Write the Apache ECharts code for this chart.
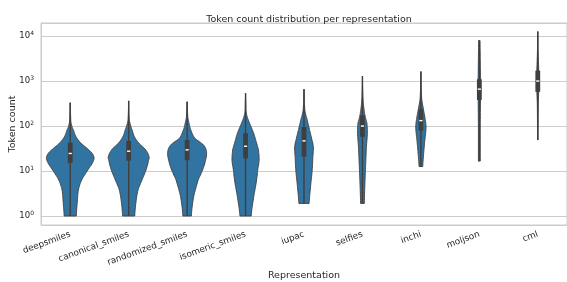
<!DOCTYPE html>
<html>
<head>
<meta charset="utf-8">
<script src="https://cdn.jsdelivr.net/npm/echarts@6/dist/echarts.min.js"></script>
<style>
  html, body { margin: 0; padding: 0; background: #fff; }
  #main { width: 567px; height: 282px; }
</style>
</head>
<body>
<div id="main"></div>
<script>
// categorias (eje x)
var categories = ['deepsmiles', 'canonical_smiles', 'randomized_smiles', 'isomeric_smiles',
  'iupac', 'selfies', 'inchi', 'moljson', 'cml'];

// perfiles de densidad: [log10(token count), densidad relativa]
var densities = [
  [[0, .26], [0.3, .30], [0.58, .35], [0.8, .49], [1.02, .75], [1.24, 1.0], [1.36, .98], [1.47, .79], [1.62, .46], [1.76, .25], [1.91, .14], [1.98, .08], [2.09, .03], [2.3, .012], [2.52, 0]],
  [[0, .26], [0.3, .31], [0.58, .40], [0.8, .57], [1.02, .74], [1.24, .85], [1.32, .87], [1.47, .73], [1.62, .44], [1.76, .25], [1.91, .15], [2.02, .08], [2.13, .03], [2.3, .012], [2.56, 0]],
  [[0, .18], [0.43, .28], [0.8, .47], [1.02, .66], [1.24, .79], [1.43, .83], [1.58, .70], [1.73, .33], [1.91, .16], [2.07, .08], [2.2, .03], [2.54, 0]],
  [[0, .24], [0.43, .35], [0.8, .47], [1.02, .52], [1.24, .58], [1.47, .55], [1.62, .47], [1.84, .35], [1.98, .24], [2.13, .12], [2.29, .03], [2.5, .012], [2.73, 0]],
  [[0.28, .22], [0.65, .28], [1.02, .35], [1.32, .38], [1.54, .40], [1.76, .31], [1.98, .21], [2.13, .14], [2.29, .06], [2.4, .03], [2.6, .01], [2.82, 0]],
  [[0.28, .08], [0.8, .11], [1.17, .14], [1.54, .17], [1.84, .21], [2.07, .19], [2.2, .12], [2.4, .06], [2.6, .025], [2.85, .008], [3.11, 0]],
  [[1.1, .08], [1.4, .12], [1.69, .17], [1.98, .22], [2.2, .17], [2.4, .10], [2.58, .04], [2.85, .012], [3.21, 0]],
  [[1.22, .04], [2.0, .04], [2.6, .05], [2.85, .06], [3.1, .05], [3.5, .04], [3.9, .03]],
  [[1.69, .01], [2.5, .02], [2.9, .05], [3.1, .05], [3.4, .03], [3.7, .012], [4.1, 0]]
];

// caja: [min, q1, mediana, q3, max] en log10(token count)
var boxStats = [
  [0, 1.18, 1.39, 1.63, 2.52],
  [0, 1.23, 1.44, 1.67, 2.56],
  [0, 1.24, 1.47, 1.69, 2.54],
  [0, 1.28, 1.55, 1.84, 2.73],
  [0.28, 1.32, 1.67, 1.98, 2.82],
  [0.28, 1.76, 2.0, 2.24, 3.11],
  [1.1, 1.9, 2.12, 2.37, 3.21],
  [1.22, 2.58, 2.82, 3.04, 3.9],
  [1.69, 2.76, 3.0, 3.23, 4.1]
];

// eje y en log10
var yMinLog = -0.2, yMaxLog = 4.29;

var myChart = echarts.init(document.getElementById('main'));

var seriesData = categories.map(function (c, i) { return [i, boxStats[i][2]]; });

// curva suave (catmull-rom) entre puntos del perfil, solo para dibujar
function smoothProfile(prof, steps) {
  var out = [];
  for (var k = 0; k < prof.length - 1; k++) {
    var p0 = prof[Math.max(k - 1, 0)], p1 = prof[k], p2 = prof[k + 1], p3 = prof[Math.min(k + 2, prof.length - 1)];
    for (var s = 0; s < steps; s++) {
      var t = s / steps, t2 = t * t, t3 = t2 * t;
      var f = function (a, b, c, d) {
        return 0.5 * ((2 * b) + (-a + c) * t + (2 * a - 5 * b + 4 * c - d) * t2 + (-a + 3 * b - 3 * c + d) * t3);
      };
      out.push([p1[0] + (p2[0] - p1[0]) * t, Math.max(0, f(p0[1], p1[1], p2[1], p3[1]))]);
    }
  }
  out.push(prof[prof.length - 1]);
  return out;
}

function renderViolin(params, api) {
  var i = params.dataIndex;
  var band = api.size([1, 0])[0];
  var cx = api.coord([i, 0])[0];
  var prof = smoothProfile(densities[i], 8);
  var right = [], left = [];
  prof.forEach(function (d) {
    var y = api.coord([i, d[0]])[1];
    var hw = d[1] * band * 0.4;
    right.push([cx + hw, y]);
    left.unshift([cx - hw, y]);
  });
  var b = boxStats[i];
  var yLo = api.coord([i, b[0]])[1];
  var yQ1 = api.coord([i, b[1]])[1];
  var yMed = api.coord([i, b[2]])[1];
  var yQ3 = api.coord([i, b[3]])[1];
  var yHi = api.coord([i, b[4]])[1];
  return {
    type: 'group',
    children: [
      {
        type: 'polygon',
        shape: { points: right.concat(left) },
        style: { fill: '#3274a1', stroke: '#404040', lineWidth: 0.9, lineJoin: 'round' }
      },
      {
        type: 'line',
        shape: { x1: cx, y1: yLo, x2: cx, y2: yHi },
        style: { stroke: '#3f3f3f', lineWidth: 1.4 }
      },
      {
        type: 'rect',
        shape: { x: cx - 2.4, y: yQ3, width: 4.8, height: yQ1 - yQ3 },
        style: { fill: '#3f3f3f' }
      },
      {
        type: 'rect',
        shape: { x: cx - 1.6, y: yMed - 0.7, width: 3.2, height: 1.4 },
        style: { fill: '#ffffff' }
      }
    ]
  };
}

var option = {
  animation: false,
  textStyle: { fontFamily: 'DejaVu Sans' },
  title: {
    text: 'Token count distribution per representation',
    left: 304, top: 10, textAlign: 'center',
    textStyle: { fontSize: 9.5, fontWeight: 'normal', color: '#262626', fontFamily: 'DejaVu Sans' }
  },
  grid: {
    left: 41, right: 0, top: 23, bottom: 57,
    outerBoundsMode: 'none',
    containLabel: false,
    show: true, borderColor: '#cccccc', borderWidth: 1
  },
  xAxis: {
    type: 'category',
    data: categories,
    name: 'Representation',
    nameLocation: 'middle',
    nameGap: 46,
    nameMoveOverlap: false,
    nameTextStyle: { fontSize: 9.5, color: '#262626' },
    axisLine: { show: true, lineStyle: { color: '#cccccc' } },
    axisTick: { show: false },
    splitLine: { show: false },
    axisLabel: { rotate: 20, fontSize: 8.8, color: '#262626', margin: 9, interval: 0 }
  },
  yAxis: {
    type: 'value',
    min: yMinLog,
    max: yMaxLog,
    name: 'Token count',
    nameLocation: 'middle',
    nameGap: 23,
    nameMoveOverlap: false,
    nameTextStyle: { fontSize: 9.5, color: '#262626' },
    axisLine: { show: true, lineStyle: { color: '#cccccc' } },
    axisTick: { show: false },
    splitLine: { show: true, lineStyle: { color: '#cccccc', width: 1 } },
    axisLabel: {
      showMinLabel: false,
      showMaxLabel: false,
      margin: 7,
      formatter: function (v) {
        if (Math.abs(v - Math.round(v)) > 1e-6) return '';
        return '{b|10}{e|' + Math.round(v) + '}';
      },
      rich: {
        b: { fontSize: 8.5, color: '#262626', lineHeight: 12, fontFamily: 'DejaVu Sans' },
        e: { fontSize: 6, color: '#262626', verticalAlign: 'top', lineHeight: 12, padding: [0, 0, 5, 0], fontFamily: 'DejaVu Sans' }
      }
    }
  },
  series: [{
    type: 'custom',
    renderItem: renderViolin,
    data: seriesData,
    encode: { x: 0, y: 1 },
    z: 3
  }]
};

myChart.setOption(option, true);
window.addEventListener('resize', function () {
  myChart.resize();
});
</script>
</body>
</html>
